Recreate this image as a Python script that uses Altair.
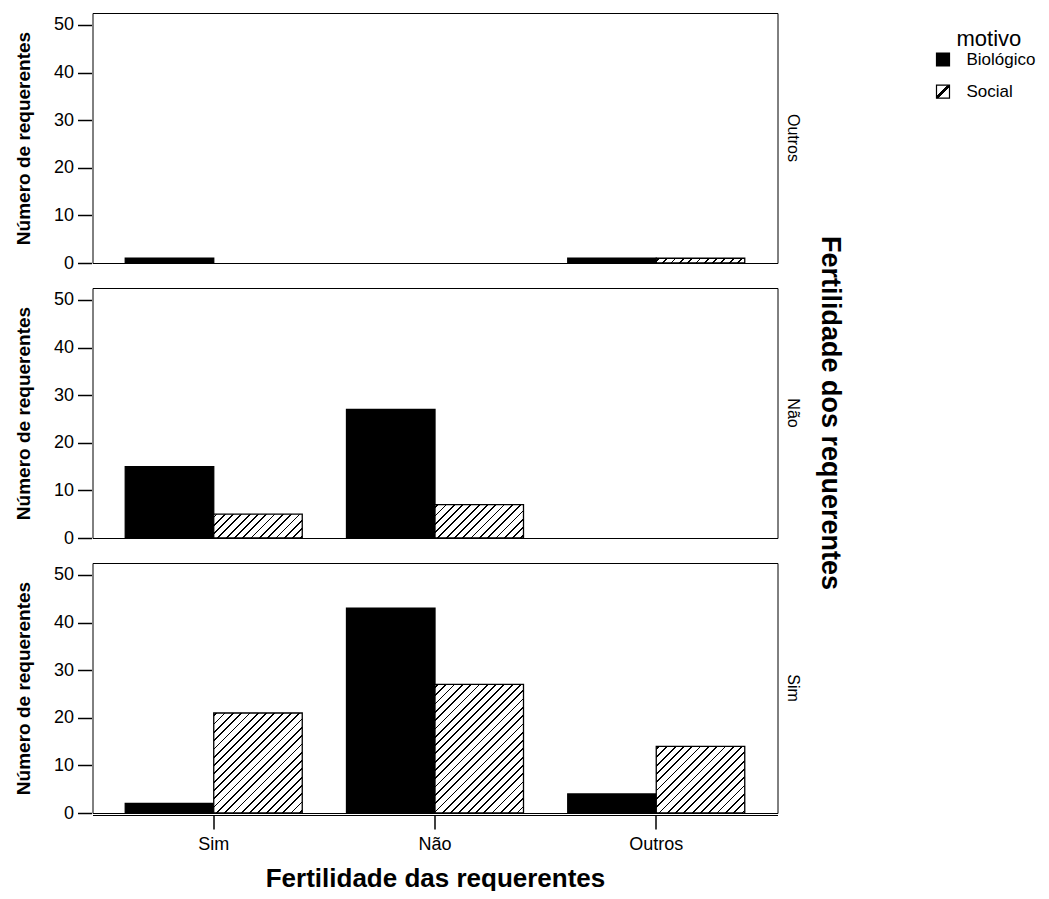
import altair as alt
import pandas as pd

# ---- data ----
requerentes = ["Outros", "Outros", "Outros",
               "Não", "Não", "Não", "Não",
               "Sim", "Sim", "Sim", "Sim", "Sim", "Sim"]
requerentes_das = ["Sim", "Outros", "Outros",
                   "Sim", "Sim", "Não", "Não",
                   "Sim", "Sim", "Não", "Não", "Outros", "Outros"]
motivo = ["Biológico", "Biológico", "Social",
          "Biológico", "Social", "Biológico", "Social",
          "Biológico", "Social", "Biológico", "Social", "Biológico", "Social"]
numero = [1, 1, 1,
          15, 5, 27, 7,
          2, 21, 43, 27, 4, 14]

cat_order = ["Sim", "Não", "Outros"]
row_order = ["Outros", "Não", "Sim"]
motivos = ["Biológico", "Social"]
y_ticks = [0, 10, 20, 30, 40, 50]

df = pd.DataFrame({"dos": requerentes, "das": requerentes_das,
                   "motivo": motivo, "n": numero})
legend_df = pd.DataFrame({"motivo": motivos})

# ---- layout constants (styles) ----
W, H = 685, 250
Y_MAX = 52.5
P_IN, P_OUT = 0.2, 0.148
FONT = "Liberation Sans"

step = W / (len(cat_order) - P_IN + 2 * P_OUT)
sub_w = step * (1 - P_IN) / 2
px_per_unit = H / Y_MAX


def hatch(w, h, period=8.3, lw=1.8, phase=3.0):
    L = w + h
    k = L / (w * w + h * h)
    stops = [{"offset": 0, "color": "white"}]
    s = phase
    while s - lw / 2 < L:
        a = max(0.0, (s - lw / 2) / L)
        b = min(1.0, (s + lw / 2) / L)
        stops += [{"offset": a, "color": "white"}, {"offset": a, "color": "black"},
                  {"offset": b, "color": "black"}, {"offset": b, "color": "white"}]
        s += period
    stops.append({"offset": 1, "color": "white"})
    return {"gradient": "linear", "x1": 0, "y1": 0, "x2": k * w, "y2": k * h,
            "stops": stops}


conds = []
for r, c, m, v in zip(requerentes, requerentes_das, motivo, numero):
    if m == "Social":
        conds.append({
            "test": f"datum.dos === '{r}' && datum.das === '{c}' && datum.motivo === 'Social'",
            "value": hatch(sub_w, v * px_per_unit),
        })

legend_grad = {"gradient": "linear", "x1": 0, "y1": 0, "x2": 1, "y2": 1,
               "stops": [{"offset": 0, "color": "white"},
                         {"offset": 0.43, "color": "white"}, {"offset": 0.43, "color": "black"},
                         {"offset": 0.57, "color": "black"}, {"offset": 0.57, "color": "white"},
                         {"offset": 1, "color": "white"}]}

fill_scale = alt.Scale(domain=motivos, range=["black", "white"])

base = alt.Chart(df).mark_bar(stroke="black", strokeWidth=1.3, fillOpacity=1).encode(
    x=alt.X("das:N", sort=cat_order,
            scale=alt.Scale(domain=cat_order, paddingInner=P_IN, paddingOuter=P_OUT),
            axis=alt.Axis(title="Fertilidade das requerentes", labelAngle=0,
                          tickSize=14, tickWidth=1.5, tickColor="black",
                          domainColor="black", labelPadding=6, labelFontSize=18,
                          titleFontSize=26, titlePadding=12)),
    xOffset=alt.XOffset("motivo:N", sort=motivos,
                        scale=alt.Scale(domain=motivos, paddingInner=0, paddingOuter=0)),
    y=alt.Y("n:Q", scale=alt.Scale(domain=[0, Y_MAX], nice=False),
            axis=alt.Axis(title="Número de requerentes", values=y_ticks, grid=False,
                          domain=False, tickSize=14, tickWidth=1.5, tickColor="black",
                          labelPadding=4, labelFontSize=18, titleFontSize=19,
                          titlePadding=20)),
    fill=alt.Fill("motivo:N", scale=fill_scale, legend=None, condition=conds),
).properties(width=W, height=H)

facet_chart = base.facet(
    row=alt.Row("dos:N", sort=row_order,
                header=alt.Header(title="Fertilidade dos requerentes",
                                  labelOrient="right", titleOrient="right",
                                  labelAngle=90, titleAngle=90,
                                  labelFontSize=16, labelFont=FONT, labelColor="black",
                                  labelPadding=6,
                                  titleFontSize=27, titleFont=FONT, titleFontWeight="bold",
                                  titleColor="black", titlePadding=5)),
    spacing=22,
)

# ---- custom legend (hatched key) ----
leg_base = alt.Chart(legend_df).encode(
    y=alt.Y("motivo:N", sort=motivos, axis=None,
            scale=alt.Scale(domain=motivos, type="band", range=[30.4, 94.8],
                            paddingInner=0, paddingOuter=0)),
)
leg_squares = leg_base.mark_point(shape="square", size=169, stroke="black",
                                  strokeWidth=1.2, opacity=1, filled=True).encode(
    x=alt.value(6.5),
    fill=alt.Fill("motivo:N", scale=fill_scale, legend=None,
                  condition=[{"test": "datum.motivo === 'Social'", "value": legend_grad}]),
)
leg_labels = leg_base.mark_text(align="left", baseline="middle", fontSize=17,
                                font=FONT, color="black").encode(
    x=alt.value(30), text="motivo:N")
leg_title = alt.Chart(pd.DataFrame({"t": ["motivo"]})).mark_text(
    align="left", baseline="alphabetic", fontSize=22, font=FONT, color="black").encode(
    x=alt.value(20), y=alt.value(33), text="t:N")

legend_chart = alt.layer(leg_title, leg_squares, leg_labels).properties(
    width=80, height=110, view=alt.ViewBackground(stroke=None))

chart = alt.hconcat(facet_chart, legend_chart, spacing=90).configure_view(
    stroke="black", strokeWidth=1).configure_axis(
    labelFont=FONT, titleFont=FONT, labelColor="black", titleColor="black",
    titleFontWeight="bold",
).properties(padding={"left": 5.5, "top": 4, "right": 0, "bottom": 0})

chart.save("out.html", embed_options={"renderer": "svg", "actions": False})
